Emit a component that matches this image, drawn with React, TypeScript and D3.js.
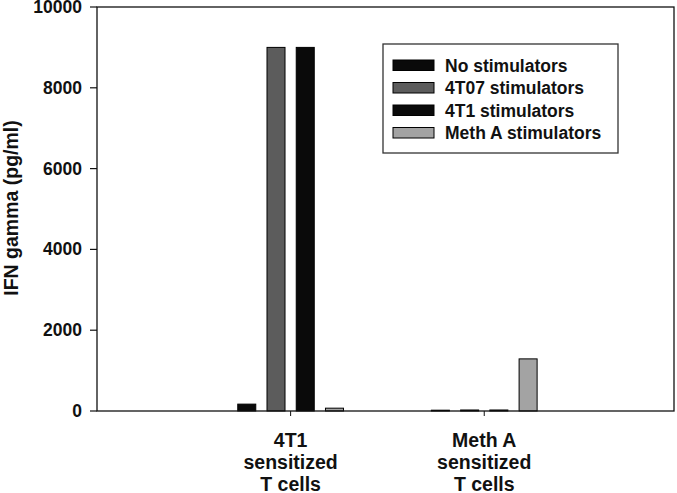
import React from 'react';
import * as d3 from 'd3';

// chart values
const groupLabels = [
  ['4T1', 'sensitized', 'T cells'],
  ['Meth A', 'sensitized', 'T cells'],
];
const seriesNames = ['No stimulators', '4T07 stimulators', '4T1 stimulators', 'Meth A stimulators'];
const noStim = [170, 20];
const stim4T07 = [9000, 25];
const stim4T1 = [9000, 25];
const stimMethA = [70, 1290];
const yTicks = [0, 2000, 4000, 6000, 8000, 10000];

const seriesValues = [noStim, stim4T07, stim4T1, stimMethA];
const seriesColors = ['#0a0a0a', '#5c5c5c', '#0a0a0a', '#a3a3a3'];

const width = 677;
const height = 493;
const left = 97;
const right = 674;
const top = 7;
const bottom = 411;
const font = '"Liberation Sans", Arial, sans-serif';

export default function App() {
  const xScale = d3.scaleLinear().domain([0, 2.98]).range([left, right]);
  const yScale = d3.scaleLinear().domain([0, 10000]).range([bottom, top]);

  const barStep = 0.151;
  const barWidth = xScale(0.093) - xScale(0);

  const bars = [];
  seriesValues.forEach((vals, s) => {
    vals.forEach((v, g) => {
      const cx = xScale(g + 1 + (s - 1.5) * barStep);
      bars.push(
        <rect
          key={s + '-' + g}
          x={cx - barWidth / 2}
          y={yScale(v)}
          width={barWidth}
          height={bottom - yScale(v)}
          fill={seriesColors[s]}
          stroke='#000'
          strokeWidth={1}
        />
      );
    });
  });

  return (
    <svg
      width={width}
      height={height}
      style={{ position: 'absolute', left: 0, top: 0, background: '#fff' }}
      fontFamily={font}
      fontWeight='bold'
    >
      <rect x={0} y={0} width={width} height={height} fill='#fff' />
      {bars}

      {/* frame */}
      <rect x={left} y={top} width={right - left} height={bottom - top} fill='none' stroke='#111' strokeWidth={1.3} />

      {/* y ticks */}
      {yTicks.map((t) => (
        <g key={t}>
          <line x1={left - 7} x2={left} y1={yScale(t)} y2={yScale(t)} stroke='#111' strokeWidth={1.2} />
          <text x={left - 15} y={yScale(t) + 6} textAnchor='end' fontSize={17.5} fill='#111'>
            {t}
          </text>
        </g>
      ))}

      {/* x ticks and labels */}
      {groupLabels.map((lines, g) => (
        <g key={g}>
          <line x1={xScale(g + 1)} x2={xScale(g + 1)} y1={bottom} y2={bottom + 5} stroke='#111' strokeWidth={1} />
          {lines.map((ln, i) => (
            <text key={i} x={xScale(g + 1)} y={447 + i * 22} textAnchor='middle' fontSize={19.5} fill='#111'>
              {ln}
            </text>
          ))}
        </g>
      ))}

      {/* y axis title */}
      <text
        transform={'translate(18,' + 208 + ') rotate(-90)'}
        textAnchor='middle'
        fontSize={19.5}
        fill='#111'
      >
        IFN gamma (pg/ml)
      </text>

      {/* legend */}
      <rect x={383} y={44} width={235} height={109} fill='#fff' stroke='#333' strokeWidth={1.3} />
      {seriesNames.map((name, i) => (
        <g key={name}>
          <rect x={393} y={60 + i * 22.5} width={41} height={10.5} fill={seriesColors[i]} stroke='#000' strokeWidth={1} />
          <text x={445} y={71.5 + i * 22.5} fontSize={17.5} fill='#111'>
            {name}
          </text>
        </g>
      ))}
    </svg>
  );
}
